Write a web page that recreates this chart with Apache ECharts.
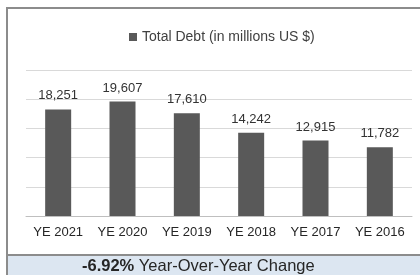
<!DOCTYPE html>
<html>
<head>
<meta charset="utf-8">
<script src="https://cdn.jsdelivr.net/npm/echarts@6/dist/echarts.min.js"></script>
<style>
  html, body { margin: 0; padding: 0; background: #fff; }
  #main { width: 420px; height: 275px; }
</style>
</head>
<body>
<div id="main"></div>
<script>
// data
const categories = ['YE 2021', 'YE 2020', 'YE 2019', 'YE 2018', 'YE 2017', 'YE 2016'];
const totalDebt = [18251, 19607, 17610, 14242, 12915, 11782];
const seriesName = 'Total Debt (in millions US $)';
const yoyChange = '-6.92%';

const font = '"Liberation Sans", Arial, sans-serif';

const chart = echarts.init(document.getElementById('main'));

const option = {
  animation: false,
  textStyle: { fontFamily: font },
  legend: {
    data: [seriesName],
    top: 25,
    left: 124,
    icon: 'rect',
    itemWidth: 8,
    itemHeight: 8,
    itemGap: 3,
    textStyle: { fontSize: 14, color: '#404040', fontFamily: font }
  },
  grid: { left: 26, right: 8, top: 70, bottom: 59 },
  xAxis: {
    type: 'category',
    data: categories,
    axisTick: { show: false },
    axisLine: { lineStyle: { color: '#bfbfbf', width: 1 } },
    axisLabel: { interval: 0, fontSize: 13, color: '#262626', margin: 10, fontFamily: font }
  },
  yAxis: {
    type: 'value',
    min: 0,
    max: 25000,
    interval: 5000,
    axisLabel: { show: false },
    axisLine: { show: false },
    axisTick: { show: false },
    splitLine: { lineStyle: { color: '#d9d9d9', width: 1 } }
  },
  series: [{
    name: seriesName,
    type: 'bar',
    data: totalDebt,
    barWidth: 26,
    itemStyle: { color: '#595959' },
    label: {
      show: true,
      position: 'top',
      distance: 7,
      fontSize: 13,
      color: '#333333',
      fontFamily: font,
      formatter: p => p.value.toLocaleString('en-US')
    }
  }],
  graphic: [
    // outer frame (left + top)
    { type: 'rect', shape: { x: 6, y: 7, width: 2, height: 268 }, style: { fill: '#8c8c8c' } },
    { type: 'rect', shape: { x: 6, y: 7, width: 414, height: 2 }, style: { fill: '#8c8c8c' } },
    // bottom band
    { type: 'rect', shape: { x: 8, y: 256, width: 412, height: 19 }, style: { fill: '#dce6f1' } },
    { type: 'rect', shape: { x: 6, y: 254, width: 414, height: 2 }, style: { fill: '#8c8c8c' } },
    {
      type: 'text',
      left: 82,
      top: 258,
      style: {
        text: '{b|' + yoyChange + '} Year-Over-Year Change',
        font: '16.5px ' + font,
        fill: '#262626',
        rich: {
          b: { fontWeight: 'bold', fontSize: 16.5, fontFamily: font, fill: '#262626' }
        }
      }
    }
  ]
};

chart.setOption(option);
</script>
</body>
</html>
